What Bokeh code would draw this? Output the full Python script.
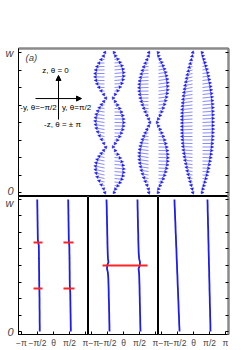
import math
from bokeh.plotting import figure
from bokeh.layouts import column, row
from bokeh.models import (ColumnDataSource, Arrow, NormalHead, Label,
                          LinearAxis, FixedTicker, Range1d)
from bokeh.embed import file_html
from bokeh.resources import INLINE

PI = math.pi

# ---------------- data ----------------
# positions along the chain (fraction of width w), bottom (0) to top (w)
Y = [0.000, 0.025, 0.050, 0.075, 0.100, 0.125, 0.150, 0.175, 0.200, 0.225,
     0.250, 0.275, 0.300, 0.325, 0.350, 0.375, 0.400, 0.425, 0.450, 0.475,
     0.500, 0.525, 0.550, 0.575, 0.600, 0.625, 0.650, 0.675, 0.700, 0.725,
     0.750, 0.775, 0.800, 0.825, 0.850, 0.875, 0.900, 0.925, 0.950, 0.975,
     1.000]

# theta of the two sublattices (left / right chain) for the three states
THETA_L1 = [-1.35, -1.35, -1.35, -1.36, -1.36, -1.36, -1.36, -1.37, -1.37, -1.37,
            -1.37, -1.38, -1.38, -1.39, -1.40, -1.40, -1.41, -1.41, -1.41, -1.42,
            -1.42, -1.42, -1.43, -1.43, -1.43, -1.44, -1.44, -1.50, -1.54, -1.54,
            -1.55, -1.55, -1.56, -1.56, -1.57, -1.57, -1.58, -1.58, -1.59, -1.59,
            -1.60]
THETA_R1 = [1.70, 1.70, 1.69, 1.69, 1.68, 1.68, 1.67, 1.67, 1.66, 1.66,
            1.65, 1.65, 1.64, 1.62, 1.60, 1.60, 1.59, 1.59, 1.59, 1.58,
            1.58, 1.58, 1.57, 1.57, 1.56, 1.56, 1.55, 1.52, 1.50, 1.50,
            1.49, 1.49, 1.48, 1.48, 1.47, 1.47, 1.46, 1.46, 1.45, 1.45,
            1.44]
THETA_L2 = [-1.37, -1.38, -1.38, -1.39, -1.40, -1.40, -1.41, -1.42, -1.42, -1.43,
            -1.44, -1.45, -1.45, -1.46, -1.47, -1.48, -1.49, -1.51, -1.54, -1.62,
            -1.60, -1.48, -1.52, -1.54, -1.55, -1.56, -1.57, -1.58, -1.58, -1.59,
            -1.60, -1.60, -1.61, -1.62, -1.62, -1.63, -1.64, -1.64, -1.65, -1.66,
            -1.67]
THETA_R2 = [1.67, 1.66, 1.65, 1.64, 1.64, 1.63, 1.62, 1.62, 1.61, 1.60,
            1.60, 1.59, 1.58, 1.58, 1.57, 1.56, 1.55, 1.54, 1.52, 1.48,
            1.60, 1.62, 1.54, 1.51, 1.49, 1.48, 1.47, 1.46, 1.45, 1.45,
            1.44, 1.43, 1.42, 1.42, 1.41, 1.40, 1.40, 1.39, 1.38, 1.38,
            1.37]
THETA_L3 = [-1.37, -1.38, -1.40, -1.41, -1.42, -1.43, -1.45, -1.46, -1.47, -1.48,
            -1.50, -1.51, -1.52, -1.53, -1.55, -1.56, -1.57, -1.58, -1.60, -1.61,
            -1.62, -1.63, -1.65, -1.66, -1.67, -1.68, -1.70, -1.71, -1.72, -1.73,
            -1.75, -1.76, -1.77, -1.78, -1.80, -1.81, -1.82, -1.83, -1.85, -1.86,
            -1.87]
THETA_R3 = [1.67, 1.66, 1.66, 1.65, 1.64, 1.63, 1.63, 1.62, 1.61, 1.60,
            1.60, 1.59, 1.58, 1.57, 1.57, 1.56, 1.55, 1.54, 1.54, 1.53,
            1.52, 1.51, 1.51, 1.50, 1.49, 1.48, 1.48, 1.47, 1.46, 1.45,
            1.45, 1.44, 1.43, 1.42, 1.42, 1.41, 1.40, 1.39, 1.39, 1.38,
            1.37]

# arrow length (magnitude) along the chain for the three states
AMP_1 = [1.5, 2.8, 5.1, 7.3, 9.1, 10.3, 10.9, 10.9, 10.3, 9.1,
         7.3, 5.1, 2.6, 0.6, 2.5, 4.8, 6.9, 8.6, 9.9, 10.7,
         11.0, 10.7, 9.9, 8.6, 6.9, 4.8, 2.5, 0.6, 2.6, 5.1,
         7.3, 9.1, 10.3, 10.9, 10.9, 10.3, 9.1, 7.3, 5.1, 2.8,
         1.5]
AMP_2 = [1.5, 1.9, 3.4, 5.0, 6.5, 7.8, 8.9, 9.8, 10.5, 10.9,
         11.0, 10.9, 10.5, 9.8, 8.9, 7.8, 6.5, 5.0, 3.4, 1.7,
         0.6, 1.7, 3.4, 5.0, 6.5, 7.8, 8.9, 9.8, 10.5, 10.9,
         11.0, 10.9, 10.5, 9.8, 8.9, 7.8, 6.5, 5.0, 3.4, 1.9,
         1.5]
AMP_3 = [1.5, 2.2, 3.2, 4.2, 5.2, 6.1, 7.0, 7.8, 8.5, 9.2,
         9.8, 10.3, 10.8, 11.2, 11.5, 11.8, 12.0, 12.1, 12.2, 12.2,
         12.2, 12.2, 12.2, 12.1, 12.0, 11.8, 11.5, 11.2, 10.8, 10.3,
         9.8, 9.2, 8.5, 7.8, 7.0, 6.1, 5.2, 4.2, 3.2, 2.2,
         1.5]

# red (domain-wall) segments in the lower panels
RED1_Y = [0.675, 0.675, 0.325, 0.325]
RED1_T0 = [-1.96, 0.98, -1.96, 0.98]
RED1_T1 = [-1.08, 1.96, -1.08, 2.06]
RED2_Y = [0.500]
RED2_T0 = [-2.06]
RED2_T1 = [2.36]

Y_TICKS = [0, 1]
Y_TICK_LABELS = {0: "0", 1: "w"}
Y_MINOR = [0.125, 0.25, 0.375, 0.5, 0.625, 0.75, 0.875]
Y_ALL = [0, 0.125, 0.25, 0.375, 0.5, 0.625, 0.75, 0.875, 1]
TH_TICKS = [-PI, -PI / 2, 0, PI / 2, PI]
TH_LABELS = {-PI: "\u2212\u03c0", -PI / 2: "\u2212\u03c0/2", 0: "\u03b8",
             PI / 2: "\u03c0/2", PI: "\u03c0"}

# ---------------- style ----------------
FONT = "Liberation Sans"
BLUE = "#1c1cf0"
SHAFT = "#8a8aff"
RED = "#ff2424"
GRAY = "#8a8a8a"
PXY = 140.0  # pixels per unit w in top panel


def y_axis_labeled():
    ax = LinearAxis(ticker=FixedTicker(ticks=Y_TICKS, minor_ticks=Y_MINOR))
    ax.axis_line_color = "black"
    ax.major_tick_in = 3
    ax.major_tick_out = 0
    ax.minor_tick_in = 3
    ax.minor_tick_out = 0
    ax.major_label_overrides = Y_TICK_LABELS
    ax.major_label_text_font = FONT
    ax.major_label_text_font_style = "italic"
    ax.major_label_text_font_size = "11px"
    ax.major_label_standoff = 5
    return ax


def gray_axis(minor):
    ax = LinearAxis(ticker=FixedTicker(ticks=[], minor_ticks=minor))
    ax.axis_line_color = GRAY
    ax.axis_line_width = 2.5
    ax.major_tick_in = 0
    ax.major_tick_out = 0
    ax.minor_tick_in = 3
    ax.minor_tick_out = 0
    ax.minor_tick_line_color = "black"
    ax.major_label_standoff = 0
    return ax


# ---------------- top panel ----------------
top = figure(width=236, height=196, x_range=Range1d(0, 210),
             y_range=Range1d(-4 / PXY, 1 + 4 / PXY),
             output_backend="svg", toolbar_location=None,
             x_axis_type=None, y_axis_type=None,
             min_border_left=18, min_border_right=8,
             min_border_top=48, min_border_bottom=0)
top.grid.visible = False
top.outline_line_color = "black"
top.background_fill_color = "white"
top.border_fill_color = "white"
top.add_layout(y_axis_labeled(), "left")
top.add_layout(gray_axis(Y_ALL), "right")
top.add_layout(gray_axis([]), "above")

BASE_L = [86, 130, 174]
BASE_R = [96, 140, 184]
states = [(THETA_L1, THETA_R1, AMP_1), (THETA_L2, THETA_R2, AMP_2),
          (THETA_L3, THETA_R3, AMP_3)]
xs, ys, xe, ye = [], [], [], []
for (tl, tr, amp), bl, br in zip(states, BASE_L, BASE_R):
    for base, th in ((bl, tl), (br, tr)):
        for yv, t, a in zip(Y, th, amp):
            xs.append(base)
            ys.append(yv)
            xe.append(base + a * math.sin(t))
            ye.append(yv + a * math.cos(t) / PXY)
asrc = ColumnDataSource(dict(xs=xs, ys=ys, xe=xe, ye=ye))
top.add_layout(Arrow(end=NormalHead(size=2.8, fill_color=BLUE, line_color=BLUE,
                                    line_width=0.5),
                     x_start="xs", y_start="ys", x_end="xe", y_end="ye",
                     source=asrc, line_color=SHAFT, line_width=1))

# compass
top.add_layout(Arrow(end=NormalHead(size=5, fill_color="black", line_color="black"),
                     x_start=17, y_start=0.671, x_end=63, y_end=0.671,
                     line_color="black", line_width=1))
top.add_layout(Arrow(end=NormalHead(size=5, fill_color="black", line_color="black"),
                     x_start=40, y_start=0.521, x_end=40, y_end=0.836,
                     line_color="black", line_width=1))
for txt, x, y in [("z, \u03b8 = 0", 37, 0.871),
                  ("-y, \u03b8=\u2212\u03c0/2", 20, 0.607),
                  ("y, \u03b8=\u03c0/2", 58, 0.607),
                  ("-z, \u03b8 = \u00b1 \u03c0", 44, 0.486)]:
    top.add_layout(Label(x=x, y=y, text=txt, text_font=FONT,
                         text_font_size="8px", text_align="center",
                         text_baseline="middle", text_color="black"))
top.add_layout(Label(x=7, y=0.964, text="(a)", text_font=FONT,
                     text_font_style="italic", text_font_size="9.5px",
                     text_align="left", text_baseline="middle"))
top.add_layout(Label(x=-7, y=0.5, text="y", text_font=FONT,
                     text_font_style="italic", text_font_size="13px",
                     angle=PI / 2, text_align="center", text_baseline="middle"))

# ---------------- bottom panels ----------------
XR = PI * 35 / 32
YP = 3 / 134.0


def bottom_panel(width, bl, br, tl, tr, red=None, left=False, right=False):
    p = figure(width=width, height=154, x_range=Range1d(-XR, XR),
               y_range=Range1d(-YP, 1 + YP),
               output_backend="svg", toolbar_location=None,
               x_axis_type=None, y_axis_type=None,
               min_border_left=bl, min_border_right=br,
               min_border_top=0, min_border_bottom=14)
    p.grid.visible = False
    p.outline_line_color = "black"
    p.background_fill_color = "white"
    p.border_fill_color = "white"
    ax = LinearAxis(ticker=FixedTicker(ticks=TH_TICKS))
    ax.major_label_overrides = TH_LABELS
    ax.major_tick_in = 3
    ax.major_tick_out = 0
    ax.minor_tick_in = 0
    ax.minor_tick_out = 0
    ax.major_label_text_font = FONT
    ax.major_label_text_font_size = "8.5px"
    ax.major_label_standoff = 3
    p.add_layout(ax, "below")
    if left:
        p.add_layout(y_axis_labeled(), "left")
        p.add_layout(Label(x=-XR - 7 * (2 * XR / 70), y=0.5, text="y",
                           text_font=FONT, text_font_style="italic",
                           text_font_size="13px", angle=PI / 2,
                           text_align="center", text_baseline="middle"))
    if right:
        p.add_layout(gray_axis(Y_ALL), "right")
    p.line(tl, Y, line_color=BLUE, line_width=1.8)
    p.line(tr, Y, line_color=BLUE, line_width=1.8)
    if red is not None:
        ry, r0, r1 = red
        p.segment(x0=r0, y0=ry, x1=r1, y1=ry, line_color=RED, line_width=2)
    return p


b1 = bottom_panel(88, 18, 0, THETA_L1, THETA_R1, (RED1_Y, RED1_T0, RED1_T1), left=True)
b2 = bottom_panel(70, 0, 0, THETA_L2, THETA_R2, (RED2_Y, RED2_T0, RED2_T1))
b3 = bottom_panel(78, 0, 8, THETA_L3, THETA_R3, None, right=True)

p = column(top, row(b1, b2, b3, spacing=0), spacing=0)

open("out.html", "w").write(file_html(p, INLINE))
